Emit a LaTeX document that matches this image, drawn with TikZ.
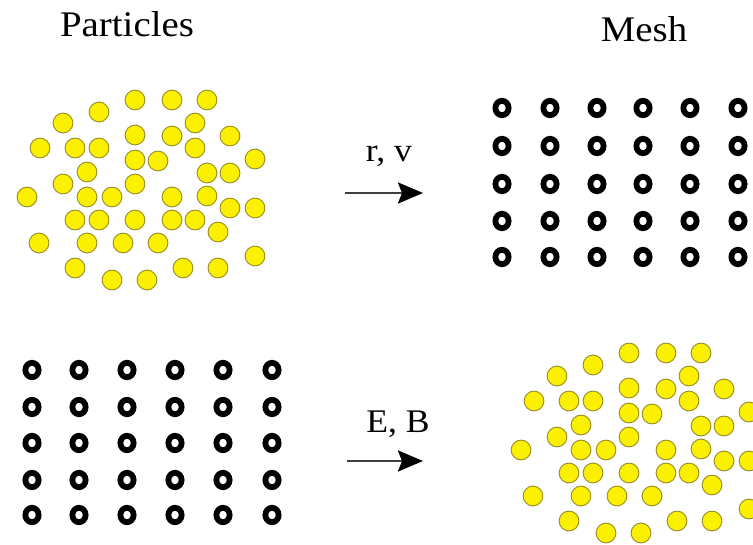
\documentclass[tikz,border=0pt]{standalone}
\usepackage{fontspec}
\setmainfont{Liberation Serif}
\usetikzlibrary{arrows.meta}
\definecolor{pyellow}{RGB}{250,240,0}
\definecolor{pedge}{RGB}{150,140,40}
\tikzset{
  particle/.style={circle, fill=pyellow, draw=pedge, line width=0.9pt, minimum size=19.8pt, inner sep=0pt},
  ring/.style={draw=black, line width=5.8pt},
  title/.style={anchor=base, font=\fontsize{36}{40}\selectfont},
  lbl/.style={anchor=base, font=\fontsize{33}{38}\selectfont},
  flow/.style={draw=black!75, line width=2.6pt, -{Stealth[length=25pt,width=21pt,inset=4pt,color=black,fill=black]}}
}
\begin{document}
\begin{tikzpicture}[x=1pt,y=-1pt]
\useasboundingbox (0,0) rectangle (753,545);
\clip (0,0) rectangle (753,545);
% titles
\node[title] (tpart) at (127,37) {\scalebox{1.08}[1]{Particles}};
\node[title] (tmesh) at (644,42) {\scalebox{1.08}[1]{Mesh}};
% particle clouds
\foreach \x/\y [count=\i] in {135/100,172/100,207/100,99/112,63/123,195/123,
  135/135,172/136,230/136,40/148,75/148,99/148,195/148,
  135/160,158/161,255/159,87/172,207/173,230/173,63/184,135/184,
  27/197,87/197,112/197,172/197,207/196,230/208,255/208,
  75/220,99/220,135/220,172/220,195/220,218/232,
  39/243,87/243,123/243,158/243,255/256,
  75/268,183/268,218/268,112/280,147/280}{
  \node[particle] (pa\i) at (\x,\y) {};
  \node[particle] (pb\i) at (\x+494,\y+253) {};
}
% meshes
\foreach \cx/\mx [count=\c] in {502/32,550/79,597/127,643/175,690/223,738/272}{
  \foreach \ry/\my [count=\r] in {108/370,146/407,184/443,221/480,257/515}{
    \coordinate (ma\c-\r) at (\cx,\ry);
    \coordinate (mb\c-\r) at (\mx,\my);
    \draw[ring] (ma\c-\r) ellipse [x radius=6.6pt, y radius=7.2pt];
    \draw[ring] (mb\c-\r) ellipse [x radius=6.6pt, y radius=7.2pt];
  }
}
% arrows
\coordinate (a1s) at (345,193);
\coordinate (a1e) at (423,193);
\coordinate (a2s) at (347,461);
\coordinate (a2e) at (423,461);
\draw[flow] (a1s) -- (a1e);
\draw[flow] (a2s) -- (a2e);
\node[lbl] (lrv) at (389,162) {\scalebox{1.08}[1]{r, v}};
\node[lbl] (leb) at (398,432) {\scalebox{1.08}[1]{E, B}};
\end{tikzpicture}
\end{document}
